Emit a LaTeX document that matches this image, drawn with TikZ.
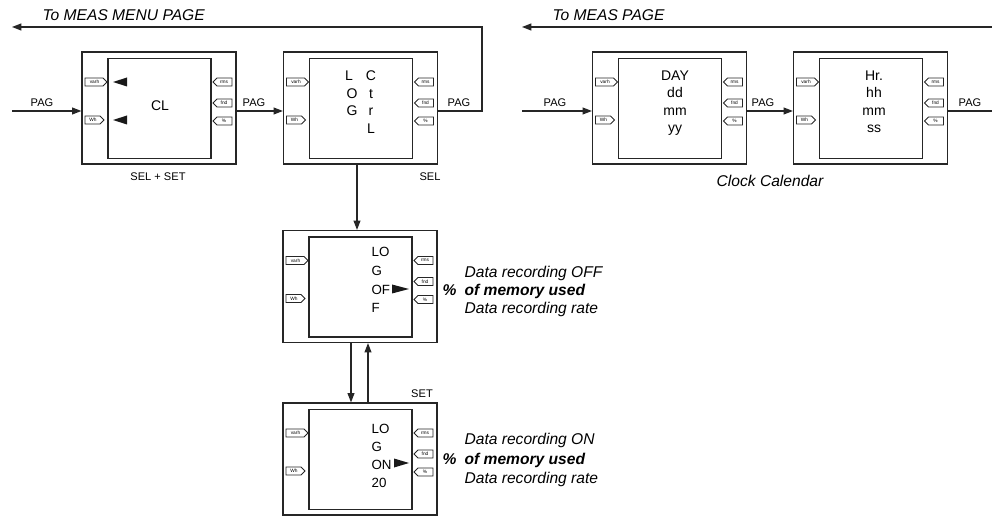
\documentclass[tikz,border=0pt]{standalone}
\usepackage{fontspec}
\setmainfont{Liberation Sans}
\usetikzlibrary{arrows.meta,calc}
\begin{document}
\begin{tikzpicture}[x=0.75pt,y=-0.75pt,
  line width=0.9pt, draw=black!85,
  outerbox/.style={draw, minimum width=115.5pt, minimum height=84pt, inner sep=0pt},
  arr/.style={-{Triangle[length=7pt,width=5.2pt]}},
  tagtxt/.style={font=\fontsize{3.6}{4}\selectfont, inner sep=0pt},
  boxtxt/.style={font=\fontsize{10.5}{12}\selectfont, inner sep=0pt, text height=7.5pt, text depth=0pt},
  sidetxt/.style={font=\fontsize{11.7}{13}\selectfont\itshape, inner sep=0pt, text height=8.4pt, text depth=0pt, anchor=west},
  bsidetxt/.style={sidetxt, font=\fontsize{11.7}{13}\selectfont\bfseries\itshape},
  smalltxt/.style={font=\fontsize{8.3}{9}\selectfont, inner sep=0pt},
  tri/.style={fill=black!90, draw=none},
  panel/.pic={
    \draw (-51,-49.5) rectangle (52,50.5);
    \begin{scope}[line width=0.55pt]
    \draw (-74,-30) -- (-56,-30) -- (-52,-26) -- (-56,-22) -- (-74,-22) -- cycle;
    \draw (-74,8) -- (-59,8) -- (-55,12) -- (-59,16) -- (-74,16) -- cycle;
    \draw (54,-26) -- (58,-30) -- (73,-30) -- (73,-22) -- (58,-22) -- cycle;
    \draw (54,-5) -- (58,-9) -- (73,-9) -- (73,-1) -- (58,-1) -- cycle;
    \draw (54,13) -- (58,9) -- (73,9) -- (73,17) -- (58,17) -- cycle;
    \end{scope}
    \node[tagtxt] at (-64.5,-26) {varh};
    \node[tagtxt] at (-66,12) {Wh};
    \node[tagtxt] at (65,-26) {rms};
    \node[tagtxt] at (65,-5) {fnd};
    \node[tagtxt] at (65,13) {\%};
  }]
\useasboundingbox (0,0) rectangle (992,516);

% boxes
\node[outerbox] (b1) at (159,108) {};
\node[outerbox] (b2) at (360.5,108) {};
\node[outerbox] (b3) at (669.5,108) {};
\node[outerbox] (b4) at (870.5,108) {};
\node[outerbox] (b5) at (360,286.5) {};
\node[outerbox] (b6) at (360,459) {};
\pic at (b1) {panel};
\pic at (b2) {panel};
\pic at (b3) {panel};
\pic at (b4) {panel};
\pic at (b5) {panel};
\pic at (b6) {panel};

% box contents
\node[boxtxt] (cl) at (160,106) {CL};
\fill[tri] (113,82) -- (127,77.5) -- (127,86.5) -- cycle;
\fill[tri] (113,120) -- (127,115.5) -- (127,124.5) -- cycle;

\node[boxtxt] (l1) at (349,76) {L};
\node[boxtxt] (l2) at (352,93.5) {O};
\node[boxtxt] (l3) at (352,111) {G};
\node[boxtxt] (c1) at (371,76) {C};
\node[boxtxt] (c2) at (371,93.5) {t};
\node[boxtxt] (c3) at (371,111) {r};
\node[boxtxt] (c4) at (371,128.5) {L};

\node[boxtxt] (d1) at (675,75.5) {DAY};
\node[boxtxt] (d2) at (675,93) {dd};
\node[boxtxt] (d3) at (675,110.5) {mm};
\node[boxtxt] (d4) at (675,128) {yy};

\node[boxtxt] (h1) at (874,75.5) {Hr.};
\node[boxtxt] (h2) at (874,93) {hh};
\node[boxtxt] (h3) at (874,110.5) {mm};
\node[boxtxt] (h4) at (874,128) {ss};

\node[boxtxt,anchor=west,font=\fontsize{10}{12}\selectfont] (o1) at (371,252) {LO};
\node[boxtxt,anchor=west,font=\fontsize{10}{12}\selectfont] (o2) at (371,271) {G};
\node[boxtxt,anchor=west,font=\fontsize{10}{12}\selectfont] (o3) at (371,290) {OF};
\node[boxtxt,anchor=west,font=\fontsize{10}{12}\selectfont] (o4) at (371,308) {F};
\fill[tri] (409,289) -- (392,284.5) -- (392,293.5) -- cycle;

\node[boxtxt,anchor=west,font=\fontsize{10}{12}\selectfont] (n1) at (371,428) {LO};
\node[boxtxt,anchor=west,font=\fontsize{10}{12}\selectfont] (n2) at (371,446) {G};
\node[boxtxt,anchor=west,font=\fontsize{10}{12}\selectfont] (n3) at (371,464) {ON};
\node[boxtxt,anchor=west,font=\fontsize{10}{12}\selectfont] (n4) at (371,482) {20};
\fill[tri] (409,463) -- (394,458.5) -- (394,467.5) -- cycle;

% side texts
\node[sidetxt] (s1) at (464,272) {Data recording OFF};
\node[bsidetxt] (s2) at (464,290) {of memory used};
\node[sidetxt] (s3) at (464,308) {Data recording rate};
\node[bsidetxt] (p1) at (442,290) {\%};

\node[sidetxt] (s4) at (464,439) {Data recording ON};
\node[bsidetxt] (s5) at (464,459) {of memory used};
\node[sidetxt] (s6) at (464,478) {Data recording rate};
\node[bsidetxt] (p2) at (442,459) {\%};

% labels
\node[sidetxt] (t1) at (42,15) {To MEAS MENU PAGE};
\node[sidetxt] (t2) at (552,15) {To MEAS PAGE};
\node[sidetxt,anchor=center] (cc) at (770,181) {Clock Calendar};
\node[smalltxt] (ss) at (158,177) {SEL + SET};
\node[smalltxt] (sel) at (430,177) {SEL};
\node[smalltxt] (set) at (422,394) {SET};

\node[smalltxt] (pg1) at (42,103) {PAG};
\node[smalltxt] (pg2) at (254,103) {PAG};
\node[smalltxt] (pg3) at (459,103) {PAG};
\node[smalltxt] (pg4) at (555,103) {PAG};
\node[smalltxt] (pg5) at (763,103) {PAG};
\node[smalltxt] (pg6) at (970,103) {PAG};

% connectors
\coordinate (in1) at (12,111);
\coordinate (in3) at (522,111);
\coordinate (out4) at (992,111);
\coordinate (ret1) at (482,27);
\coordinate (end1) at (12,27);
\coordinate (ret2) at (992,27);
\coordinate (end2) at (522,27);

\draw[arr] (in1) -- (b1.west |- in1);
\draw[arr] (b1.east |- in1) -- (b2.west |- in1);
\draw[arr] (b2.east |- in1) -| (ret1) -- (end1);
\draw[arr] ($(b2.south)+(-3.5,0)$) -- ($(b5.north)+(-3,0)$);
\draw[arr] ($(b5.south)+(-9,0)$) -- ($(b6.north)+(-9,0)$);
\draw[arr] ($(b6.north)+(8,0)$) -- ($(b5.south)+(8,0)$);

\draw[arr] (in3) -- (b3.west |- in3);
\draw[arr] (b3.east |- in3) -- (b4.west |- in3);
\draw (b4.east |- in3) -- (out4);
\draw[arr] (ret2) -- (end2);
\end{tikzpicture}
\end{document}
